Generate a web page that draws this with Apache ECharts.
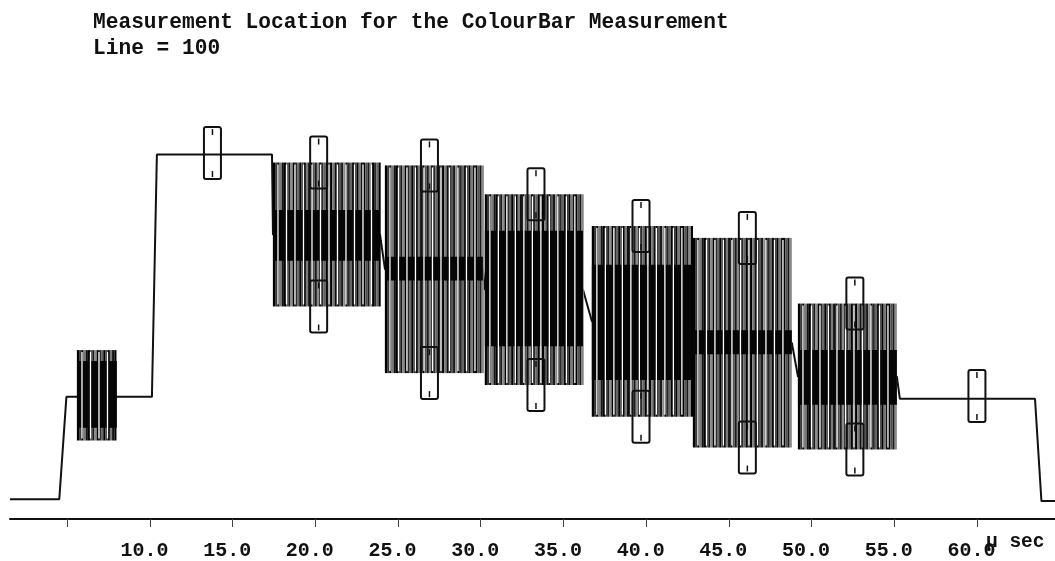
<!DOCTYPE html>
<html>
<head>
<meta charset="utf-8">
<script src="https://cdn.jsdelivr.net/npm/echarts@6/dist/echarts.min.js"></script>
<style>
html,body{margin:0;padding:0;background:#fff;}
#chart{width:1055px;height:561px;}
</style>
</head>
<body>
<div id="chart"></div>
<script>
// ---- text ----
const titleLine1 = 'Measurement Location for the ColourBar Measurement';
const titleLine2 = 'Line = 100';
const unitLabel = 'µ sec';

// ---- axis ticks (µs) ----
const tickValues = [5, 10, 15, 20, 25, 30, 35, 40, 45, 50, 55, 60];
const labelValues = [10, 15, 20, 25, 30, 35, 40, 45, 50, 55, 60];

// ---- luminance trace: [time µs, level IRE] ----
const lumaTrace = [
  [1.54, -41.8], [4.52, -41.8], [4.95, 0.4], [10.12, 0.4], [10.42, 100.4],
  [17.38, 100.4], [17.44, 67.4], [23.91, 67.4], [24.21, 53.1], [30.13, 53.1],
  [30.25, 44.7], [36.18, 44.7], [36.72, 31.6], [42.77, 31.6], [42.83, 22.7],
  [48.81, 22.7], [49.18, 8.8], [55.16, 8.8], [55.34, -0.4], [63.51, -0.4],
  [63.90, -42.6], [64.72, -42.6]
];

// ---- chroma segments: [start µs, end µs, envelope top, envelope bottom, dense top, dense bottom] (IRE) ----
const burst   = [5.59, 8.00, 19.7, -17.6, 15.2, -12.3];
const yellow  = [17.44, 23.91, 97.1, 37.7, 77.5, 56.6];
const cyan    = [24.21, 30.13, 95.9, 10.2, 58.2, 48.4];
const green   = [30.25, 36.18, 84.0, 5.3, 68.9, 21.3];
const magenta = [36.72, 42.77, 70.9, -7.8, 54.9, 7.4];
const red     = [42.83, 48.81, 66.0, -20.5, 27.9, 18.0];
const blue    = [49.18, 55.16, 38.9, -21.3, 19.7, -2.9];

// ---- measurement locations: [time µs, level IRE] ----
const markers = [
  [13.78, 101.0],
  [20.20, 97.1], [20.20, 37.7],
  [26.90, 95.9], [26.90, 10.2],
  [33.34, 84.0], [33.34, 5.3],
  [39.69, 70.9], [39.69, -7.8],
  [46.12, 66.0], [46.12, -20.5],
  [52.62, 38.9], [52.62, -21.3],
  [60.00, 0.8]
];

const chromaSegments = [burst, yellow, cyan, green, magenta, red, blue];

const FONT = "'Liberation Mono', 'DejaVu Sans Mono', monospace";
const stripePalette = ['#000', '#3a3a3a', '#000', '#7a7a7a', '#111', '#000', '#555', '#1a1a1a', '#8a8a8a', '#000', '#2a2a2a', '#666'];

function renderChroma(params, api) {
  const a = api.coord([api.value(0), api.value(2)]);
  const b = api.coord([api.value(1), api.value(3)]);
  const d0 = api.coord([api.value(0), api.value(4)])[1];
  const d1 = api.coord([api.value(0), api.value(5)])[1];
  const x0 = a[0], x1 = b[0], yt = a[1], yb = b[1];
  const children = [];
  let i = 0;
  for (let x = x0 + 1; x <= x1; x += 2.2, i++) {
    children.push({
      type: 'line',
      shape: {x1: x, y1: yt, x2: x, y2: yb},
      style: {stroke: stripePalette[i % stripePalette.length], lineWidth: 2.2}
    });
  }
  children.push({type: 'rect', shape: {x: x0, y: d0, width: x1 - x0, height: d1 - d0}, style: {fill: '#050505'}});
  for (let x = x0 + 5; x < x1 - 2; x += 8.5) {
    children.push({
      type: 'line',
      shape: {x1: x, y1: yt + 2, x2: x, y2: yb - 2},
      style: {stroke: '#fff', lineWidth: 1.3}
    });
  }
  return {type: 'group', children};
}

function renderMarker(params, api) {
  const c = api.coord([api.value(0), api.value(1)]);
  return {
    type: 'group',
    children: [
      {type: 'rect', shape: {x: c[0] - 8.5, y: c[1] - 26, width: 17, height: 52, r: 2},
       style: {fill: 'none', stroke: '#111', lineWidth: 2}},
      {type: 'line', shape: {x1: c[0], y1: c[1] - 24, x2: c[0], y2: c[1] - 18},
       style: {stroke: '#111', lineWidth: 1.5}},
      {type: 'line', shape: {x1: c[0], y1: c[1] + 18, x2: c[0], y2: c[1] + 24},
       style: {stroke: '#111', lineWidth: 1.5}}
    ]
  };
}

const chart = echarts.init(document.getElementById('chart'), null, {renderer: 'canvas'});
chart.setOption({
  animation: false,
  backgroundColor: '#fff',
  title: {
    text: titleLine1 + '\n' + titleLine2,
    left: 88,
    top: 5,
    textStyle: {fontFamily: FONT, fontWeight: 'bold', fontSize: 21.2, lineHeight: 26, color: '#111'}
  },
  graphic: [{
    type: 'text',
    left: 986,
    top: 532,
    style: {text: unitLabel, font: "bold 19.5px 'Liberation Mono'", fill: '#111'}
  }],
  grid: {left: 10, right: 0, top: 82.8, bottom: 39},
  xAxis: {
    type: 'value',
    min: 1.54,
    max: 64.72,
    splitLine: {show: false},
    axisLine: {onZero: false, lineStyle: {color: '#111', width: 2}},
    axisTick: {customValues: tickValues, length: 8, lineStyle: {color: '#444', width: 1}},
    axisLabel: {
      customValues: labelValues,
      formatter: v => v.toFixed(1),
      fontFamily: FONT, fontWeight: 'bold', fontSize: 20, color: '#111',
      margin: 22, padding: [0, 11, 0, 0]
    }
  },
  yAxis: {type: 'value', min: -50, max: 130, show: false},
  series: [
    {
      type: 'line',
      data: lumaTrace,
      symbol: 'none',
      lineStyle: {color: '#111', width: 2},
      z: 1
    },
    {
      type: 'custom',
      data: chromaSegments,
      encode: {x: [0, 1], y: [2, 3, 4, 5]},
      renderItem: renderChroma,
      z: 2
    },
    {
      type: 'custom',
      data: markers,
      encode: {x: 0, y: 1},
      renderItem: renderMarker,
      z: 3
    }
  ]
});
</script>
</body>
</html>
